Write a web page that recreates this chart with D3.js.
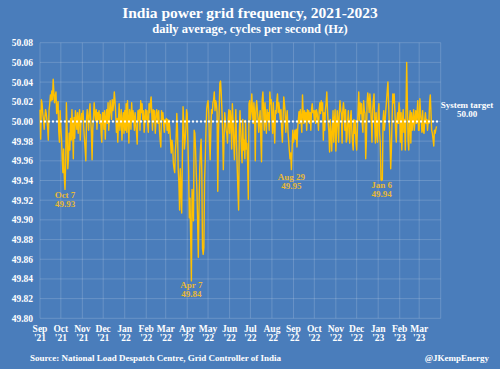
<!DOCTYPE html>
<html>
<head>
<meta charset="utf-8">
<script src="https://cdn.jsdelivr.net/npm/d3@7"></script>
<style>
  body { margin: 0; background: #4a7dbb; }
  svg { display: block; font-family: "Liberation Serif", "DejaVu Serif", serif; font-weight: bold; }
</style>
</head>
<body>
<div id="chart"></div>
<script>
// daily average frequency (Hz), one array per month, starting 1 Sep 2021
var sep21 = [50.012,49.982,50.022,50.018,50.008,50.002,49.992,50.004,50.012,50.008,50.001,49.994,49.981,50.011,50.018,50.027,50.021,50.031,50.022,50.043,50.029,50.019,50.026,50.03,50.008,50.014,50.02,49.99,49.979,50.011];
var oct21 = [49.993,49.982,49.962,49.948,49.972,49.943,49.931,49.958,50.019,49.992,49.952,49.963,49.988,49.971,50.003,49.981,50.012,49.991,49.962,50.004,49.983,50.011,50.002,49.992,50.009,49.988,50.003,50.012,49.981,50.001,50.008];
var nov21 = [50.002,50.011,49.993,49.982,49.972,49.96,50.003,50.012,50.004,49.991,50.01,50.018,50.002,49.989,49.961,49.993,50.004,50.019,50.008,50.001,50.012,49.992,50.009,50.002,50.011,49.998,50.007,49.989,49.979,50.009];
var dec21 = [50.009,49.992,50.011,49.982,50.003,50.012,49.998,50.019,49.991,50.008,50.021,50.01,50.002,50.022,50.011,50.018,50.03,50.021,50.008,49.989,50.003,49.979,50.001,50.018,49.991,50.002,50.012,49.981,50.001,50.009,49.988];
var jan22 = [50.011,49.991,50.018,49.989,50.021,50.002,49.978,50.012,50.008,49.992,50.019,50.001,50.011,50.003,49.991,50.009,49.998,49.988,49.977,50.011,50.001,50.012,49.991,50.021,50.009,50.018,50.002,50.011,49.989,50.002,50.012];
var feb22 = [50.002,50.011,49.998,49.989,50.018,50.009,50.019,50.025,50.008,49.991,50.012,50.002,50.011,49.988,50.001,50.012,50.008,49.998,50.011,49.991,49.981,49.974,50.011,50.002,50.009,49.998,49.989,50.002];
var mar22 = [49.998,50.003,49.991,50.002,49.988,50.001,49.992,49.979,49.968,49.981,49.976,49.958,49.952,49.948,49.971,49.982,50.008,49.991,49.951,49.938,49.91,49.952,49.931,49.907,49.962,50.015,49.998,49.972,49.981,49.992,50.012];
var apr22 = [50.008,49.978,49.951,49.902,49.922,49.881,49.838,49.931,49.918,49.899,49.991,49.988,49.972,49.948,49.929,49.898,49.862,49.912,49.951,49.971,49.982,49.948,49.871,49.865,49.872,49.941,49.962,49.991,50.012,50.018];
var may22 = [50.021,50.009,49.979,49.961,49.991,50.012,50.008,50.019,50.022,50.03,50.011,50.021,50.018,50.009,49.929,49.989,50.011,50.039,50.041,50.028,50.011,49.988,49.951,49.981,50.009,50.001,49.991,49.988,49.978,50.002,50.012];
var jun22 = [49.988,50.011,50.002,49.972,50.018,50.001,49.979,49.961,49.991,50.012,49.978,49.952,49.931,49.91,49.989,50.011,49.991,49.972,49.958,50.002,49.971,49.981,49.962,50.001,49.972,49.978,49.958,49.921,50.018,50.021];
var jul22 = [50.002,50.011,50.028,50.009,49.998,50.019,50.008,49.96,50.011,50.021,50.012,50.002,49.989,50.003,50.011,49.981,49.959,50.022,50.03,50.011,49.991,50.019,50.002,49.988,50.012,50.001,50.009,49.991,50.03,50.018,50.022];
var aug22 = [50.002,49.988,50.019,49.998,49.978,50.011,50.008,50.021,50.028,50.009,50.019,50.011,50.002,50.012,49.991,49.979,50.001,50.025,50.018,50.009,49.989,50.002,50.011,49.991,49.981,49.971,49.962,49.968,49.951,49.972,49.991];
var sep22 = [49.979,49.984,49.991,49.982,49.992,49.974,49.991,50.002,50.01,49.998,50.012,50.001,49.989,50.027,50.008,49.998,50.011,50.002,50.009,49.991,50.012,50.001,50.011,49.998,50.009,49.991,50.012,50.018,50.009,50.011];
var oct22 = [50.001,50.011,49.998,50.012,50.009,50.002,49.991,50.011,50.019,50.008,50.021,50.011,50.019,49.981,50.009,49.991,50.012,50.019,50.03,50.011,49.998,49.989,49.969,50.002,49.988,49.97,49.992,50.011,49.979,50.001,50.012];
var nov22 = [49.97,49.991,50.011,50.002,49.979,50.009,50.021,50.011,50.008,49.978,50.011,50.019,50.009,49.991,50.012,49.979,49.982,50.001,50.011,49.989,49.978,50.002,50.011,49.991,49.979,49.971,50.002,49.988,50.001,49.979];
var dec22 = [49.971,49.991,50.011,50.03,50.001,50.019,50.008,50.018,49.998,49.989,50.021,50.011,50.008,49.962,49.981,50.019,50.029,50.021,50.009,50.028,50.018,50.001,49.979,50.011,50.021,50.028,49.998,49.978,50.009,49.988,49.979];
var jan23 = [50.008,50.018,49.989,49.978,49.941,49.94,49.941,50.002,50.011,49.991,50.001,50.012,50.021,50.031,50.04,50.018,49.998,49.978,49.952,49.972,50.002,50.028,50.019,50.028,50.011,49.991,49.979,50.002,50.009,49.998,50.019];
var feb23 = [50.011,49.979,50.009,49.971,50.001,50.012,49.989,50.002,49.971,50.009,50.06,50.019,49.981,49.971,50.002,50.011,49.978,50.009,49.991,50.001,50.012,49.991,50.002,50.011,49.998,50.009,50.021,49.991];
var mar23 = [49.991,50.023,50.008,50.001,49.989,50.011,49.991,49.988,50.002,50.009,49.998,50.002,49.991,50.001,49.998,50.019,50.027,50.009,49.991,49.988,49.982,49.975,49.991,49.988,49.992,49.995];

var months = [sep21,oct21,nov21,dec21,jan22,feb22,mar22,apr22,may22,jun22,jul22,aug22,sep22,oct22,nov22,dec22,jan23,feb23,mar23];
var monthLabels = ["Sep","Oct","Nov","Dec","Jan","Feb","Mar","Apr","May","Jun","Jul","Aug","Sep","Oct","Nov","Dec","Jan","Feb","Mar"];
var yearLabels = ["'21","'21","'21","'21","'22","'22","'22","'22","'22","'22","'22","'22","'22","'22","'22","'22","'23","'23","'23"];
var yTicks = [49.80,49.82,49.84,49.86,49.88,49.90,49.92,49.94,49.96,49.98,50.00,50.02,50.04,50.06,50.08];
var notes = [
  {date:"2021-10-07", label:"Oct 7", value:"49.93", y:49.922},
  {date:"2022-04-07", label:"Apr 7", value:"49.84", y:49.831},
  {date:"2022-08-29", label:"Aug 29", value:"49.95", y:49.941},
  {date:"2023-01-06", label:"Jan 6", value:"49.94", y:49.932}
];
var target = 50.00;

var parse = d3.timeParse("%Y-%m-%d");
var start = parse("2021-09-01");
var data = [];
months.forEach(function(arr,m){
  var first = d3.timeMonth.offset(start, m);
  arr.forEach(function(v,i){
    data.push({date: d3.timeDay.offset(first, i), value: v});
  });
});

var width = 500, height = 369;
var margin = {top: 42.7, right: 59.3, bottom: 50.7, left: 40};

var svg = d3.select("#chart").append("svg")
    .attr("width", width).attr("height", height);

var x = d3.scaleTime()
    .domain([start, parse("2023-04-01")])
    .range([margin.left, width - margin.right]);
var y = d3.scaleLinear()
    .domain([49.80, 50.08])
    .range([height - margin.bottom, margin.top]);

var tickDates = d3.range(months.length + 1).map(function(m){ return d3.timeMonth.offset(start, m); });

// grid
svg.append("g").selectAll("line")
    .data(tickDates).enter().append("line")
    .attr("x1", function(d){return x(d);}).attr("x2", function(d){return x(d);})
    .attr("y1", y(49.80)).attr("y2", y(50.08))
    .style("stroke", "#ffffff").style("stroke-opacity", 0.17).style("stroke-width", 1);
svg.append("g").selectAll("line")
    .data(yTicks).enter().append("line")
    .attr("x1", x.range()[0]).attr("x2", x.range()[1])
    .attr("y1", function(d){return y(d);}).attr("y2", function(d){return y(d);})
    .style("stroke", "#ffffff").style("stroke-opacity", 0.17).style("stroke-width", 1);

// y labels
svg.append("g").selectAll("text")
    .data(yTicks).enter().append("text")
    .attr("x", 33).attr("y", function(d){return y(d) + 3.5;})
    .attr("text-anchor", "end")
    .style("fill", "#ffffff").style("font-size", "9.5px")
    .text(function(d){return d.toFixed(2);});

// x labels
var xl = svg.append("g").selectAll("text")
    .data(tickDates.slice(0, months.length)).enter().append("text")
    .attr("text-anchor", "middle")
    .style("fill", "#ffffff").style("font-size", "9.5px");
xl.append("tspan").attr("x", function(d){return x(d);}).attr("y", 331.5)
    .text(function(d,i){return monthLabels[i];});
xl.append("tspan").attr("x", function(d){return x(d);}).attr("y", 340.5)
    .text(function(d,i){return yearLabels[i];});

// line
var line = d3.line()
    .x(function(d){return x(d.date);})
    .y(function(d){return y(d.value);});
svg.append("path")
    .datum(data)
    .attr("d", line)
    .style("fill", "none")
    .style("stroke", "#ffc000")
    .style("stroke-width", 1.4)
    .style("stroke-linejoin", "round");

// target line
svg.append("line")
    .attr("x1", x.range()[0]).attr("x2", x.range()[1] - 1)
    .attr("y1", y(target)).attr("y2", y(target))
    .style("stroke", "#ffffff").style("stroke-width", 2)
    .style("stroke-dasharray", "2,2");

svg.append("text").attr("x", 467).attr("y", 107.5).attr("text-anchor", "middle")
    .style("fill", "#ffffff").style("font-size", "9px").text("System target");
svg.append("text").attr("x", 467).attr("y", 116.5).attr("text-anchor", "middle")
    .style("fill", "#ffffff").style("font-size", "9px").text("50.00");

// annotations
var an = svg.append("g").selectAll("text")
    .data(notes).enter().append("text")
    .attr("text-anchor", "middle")
    .style("fill", "#e8b937").style("font-size", "9px");
an.append("tspan").attr("x", function(d){return x(parse(d.date));})
    .attr("y", function(d){return y(d.y);})
    .text(function(d){return d.label;});
an.append("tspan").attr("x", function(d){return x(parse(d.date));})
    .attr("y", function(d){return y(d.y) + 9;})
    .text(function(d){return d.value;});

// titles
svg.append("text").attr("x", 250).attr("y", 18).attr("text-anchor", "middle")
    .style("fill", "#ffffff").style("font-size", "15.5px")
    .text("India power grid frequency, 2021-2023");
svg.append("text").attr("x", 250).attr("y", 33).attr("text-anchor", "middle")
    .style("fill", "#ffffff").style("font-size", "12.5px")
    .text("daily average, cycles per second (Hz)");

svg.append("text").attr("x", 30).attr("y", 361)
    .style("fill", "#ffffff").style("font-size", "9px")
    .text("Source:  National Load Despatch Centre, Grid Controller of India");
svg.append("text").attr("x", 489).attr("y", 361).attr("text-anchor", "end")
    .style("fill", "#ffffff").style("font-size", "9px")
    .text("@JKempEnergy");
</script>
</body>
</html>
